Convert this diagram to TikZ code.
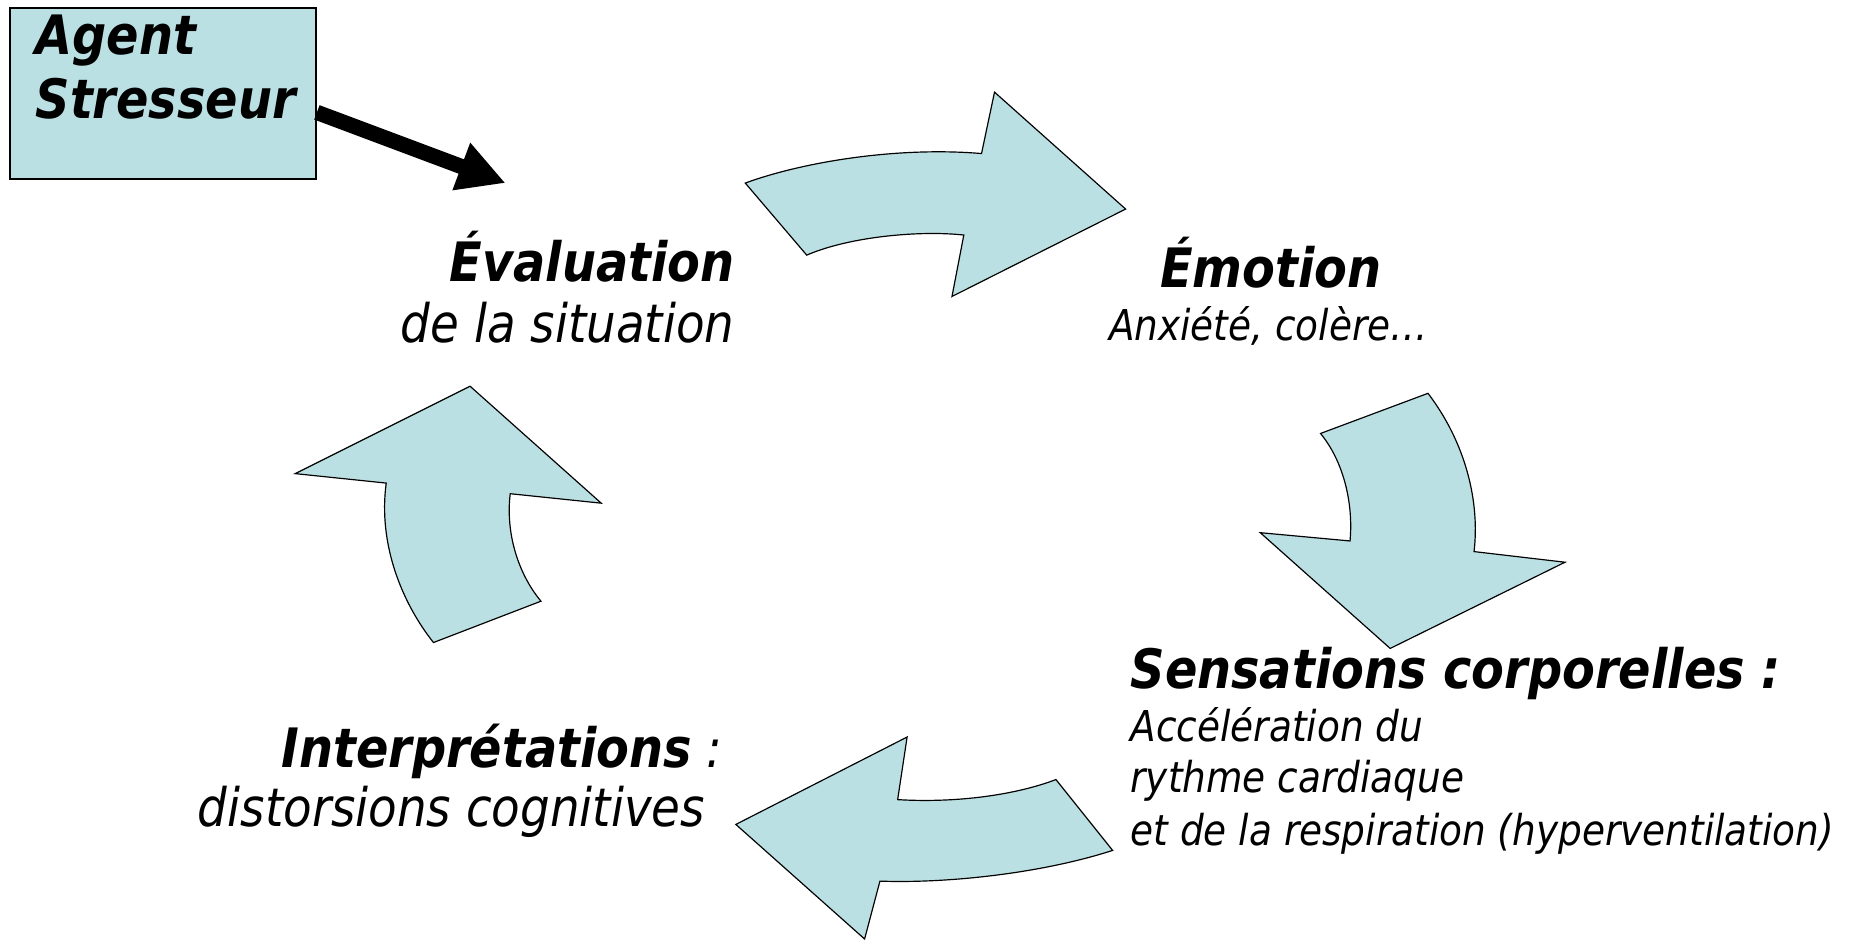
\documentclass[tikz,border=0pt]{standalone}
\usepackage{fontspec}
\setmainfont{DejaVu Sans}[
  FakeStretch=0.88,
  BoldFont={DejaVu Sans Bold},
  ItalicFont={DejaVu Sans Oblique},
  BoldItalicFont={DejaVu Sans Bold Oblique}]
\usetikzlibrary{arrows.meta}
\definecolor{pptblue}{RGB}{187,224,227}
\tikzset{
  blockarrow/.style={fill=pptblue, draw=black, line width=1pt, line join=miter},
  head/.style={font=\fontsize{46}{54}\selectfont\bfseries\itshape, inner sep=0pt},
  sub/.style={font=\fontsize{45}{54}\selectfont\itshape, inner sep=0pt},
  small/.style={font=\fontsize{36}{44}\selectfont\itshape, inner sep=0pt},
  stressbox/.style={fill=pptblue, draw=black, line width=1.3pt, inner sep=0pt},
  stressarrow/.style={line width=13pt, -{Triangle[length=40pt, width=40pt]}},
}
\begin{document}
\begin{tikzpicture}[x=1pt, y=-1pt]
\useasboundingbox (0,0) rectangle (1568,800);

% stressor box
\node[stressbox, minimum width=259pt, minimum height=145pt, anchor=north west] (agent) at (8,6) {};
\node[head, anchor=base west] (agent1) at (30,46) {Agent};
\node[head, anchor=base west] (agent2) at (30,100) {Stresseur};
\coordinate (evtip) at (428,155);
\draw[stressarrow] ([yshift=-16pt]agent.east) -- (evtip);

% labels
\node[head, anchor=base east] (eval) at (622,238) {Évaluation};
\node[sub, anchor=base east] (evalsub) at (622,290) {de la situation};

\node[head, anchor=base] (emo) at (1076,243) {Émotion};
\node[small, anchor=base] (emosub) at (1074,288) {Anxiété, colère…};

\node[head, anchor=base west] (sens) at (957,583) {Sensations corporelles :};
\node[small, anchor=base west] (sens1) at (957,628) {Accélération du};
\node[small, anchor=base west] (sens2) at (957,671) {rythme cardiaque};
\node[small, anchor=base west] (sens3) at (957,716) {et de la respiration (hyperventilation)};

\node[sub, anchor=base east] (interp) at (612,650) {{\fontsize{46}{54}\selectfont\bfseries Interprétations} :};
\node[sub, anchor=base east] (interpsub) at (597,700) {distorsions cognitives};

% cycle block arrows
\path[blockarrow] (631,155) .. controls (680,137) and (760,124) .. (831,130)
  -- (842,78) -- (953,177) -- (806,251) -- (816,199)
  .. controls (780,195) and (720,200) .. (683,216) -- cycle;

\path[blockarrow] (1118,367) .. controls (1137,390) and (1146,425) .. (1143,458)
  -- (1067,451) -- (1177,549) -- (1325,476) -- (1248,467)
  .. controls (1253,425) and (1241,375) .. (1209,333) -- cycle;

\path[blockarrow] (894,660) .. controls (860,673) and (810,680) .. (760,677)
  -- (768,624) -- (623,698) -- (732,795) -- (745,746)
  .. controls (800,748) and (880,740) .. (942,720) -- cycle;

\path[blockarrow] (367,544) .. controls (340,510) and (320,460) .. (327,409)
  -- (250,401) -- (398,327) -- (509,426) -- (432,418)
  .. controls (428,450) and (438,485) .. (458,509) -- cycle;
\end{tikzpicture}
\end{document}
